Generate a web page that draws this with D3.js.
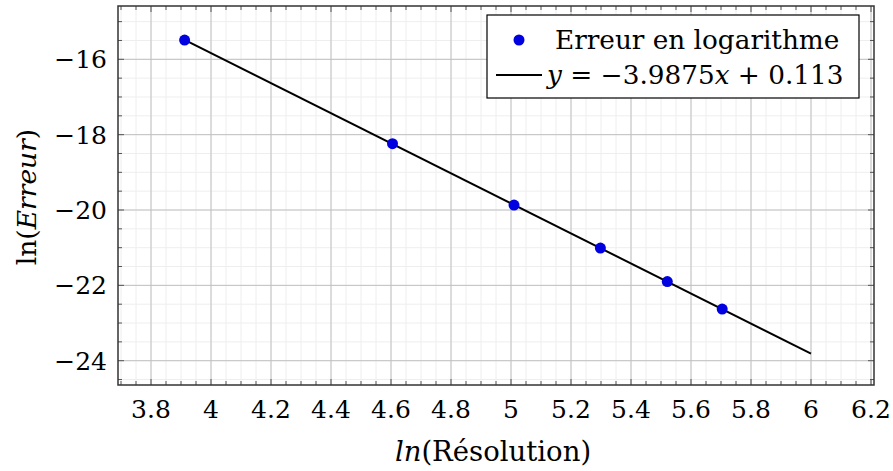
<!DOCTYPE html>
<html><head><meta charset="utf-8">
<script src="https://cdn.jsdelivr.net/npm/d3@7"></script>
<style>body{margin:0;background:#fff}svg{display:block}</style>
</head><body>
<script>
const xValues = [3.912, 4.605, 5.010, 5.298, 5.521, 5.704];
const yValues = [-15.49, -18.24, -19.87, -21.01, -21.90, -22.63];
const fitSlope = -3.9875, fitIntercept = 0.113;
const fitRange = [3.912, 6];
const xTicks = [3.8, 4, 4.2, 4.4, 4.6, 4.8, 5, 5.2, 5.4, 5.6, 5.8, 6, 6.2];
const yTicks = [-16, -18, -20, -22, -24];
const legendLabels = ["Erreur en logarithme", "fit"];

const W = 893, H = 471;
const L = 118, R = 874, T = 6, B = 385;
const FONT = "'DejaVu Serif'";
const svg = d3.select("body").append("svg").attr("width", W).attr("height", H)
  .attr("font-family", FONT);
const x = d3.scaleLinear().domain([3.69, 6.21]).range([L, R]);
const y = d3.scaleLinear().domain([-24.645, -14.585]).range([B, T]);

const fmt = v => (v < 0 ? "\u2212" : "") + Math.abs(v);
const xMinor = d3.range(3.7, 6.2001, 0.05).map(v => +v.toFixed(2));
const yMinor = d3.range(-24.5, -14.5, 0.5);

svg.append("g").selectAll("line").data(xMinor).join("line")
  .attr("x1", d => x(d)).attr("x2", d => x(d)).attr("y1", T).attr("y2", B)
  .attr("stroke", "#eeeeee").attr("stroke-width", 1);
svg.append("g").selectAll("line").data(yMinor).join("line")
  .attr("y1", d => y(d)).attr("y2", d => y(d)).attr("x1", L).attr("x2", R)
  .attr("stroke", "#eeeeee").attr("stroke-width", 1);
svg.append("g").selectAll("line").data(xTicks).join("line")
  .attr("x1", d => x(d)).attr("x2", d => x(d)).attr("y1", T).attr("y2", B)
  .attr("stroke", "#c0c0c0").attr("stroke-width", 1);
svg.append("g").selectAll("line").data(yTicks).join("line")
  .attr("y1", d => y(d)).attr("y2", d => y(d)).attr("x1", L).attr("x2", R)
  .attr("stroke", "#c0c0c0").attr("stroke-width", 1);

const tk = svg.append("g").attr("stroke", "#555").attr("stroke-width", 1);
xMinor.forEach(v => {
  const major = xTicks.some(t => Math.abs(t - v) < 1e-6);
  const len = major ? 6 : 4;
  tk.append("line").attr("x1", x(v)).attr("x2", x(v)).attr("y1", B).attr("y2", B - len);
  tk.append("line").attr("x1", x(v)).attr("x2", x(v)).attr("y1", T).attr("y2", T + len);
});
yMinor.forEach(v => {
  const major = yTicks.includes(v);
  const len = major ? 6 : 4;
  tk.append("line").attr("y1", y(v)).attr("y2", y(v)).attr("x1", L).attr("x2", L + len);
  tk.append("line").attr("y1", y(v)).attr("y2", y(v)).attr("x1", R).attr("x2", R - len);
});

svg.append("rect").attr("x", L).attr("y", T).attr("width", R - L).attr("height", B - T)
  .attr("fill", "none").attr("stroke", "#333").attr("stroke-width", 1.5);

svg.append("g").selectAll("text").data(xTicks).join("text")
  .attr("x", d => x(d)).attr("y", 418).attr("text-anchor", "middle")
  .attr("font-size", 25).text(d => d);
svg.append("g").selectAll("text").data(yTicks).join("text")
  .attr("x", 107).attr("y", d => y(d) + 9).attr("text-anchor", "end")
  .attr("font-size", 25).text(fmt);

const lineData = fitRange.map(v => [v, fitSlope * v + fitIntercept]);
svg.append("path").datum(lineData)
  .attr("d", d3.line().x(d => x(d[0])).y(d => y(d[1])))
  .attr("stroke", "#000").attr("stroke-width", 2).attr("fill", "none");

svg.append("g").selectAll("circle").data(xValues.map((v, i) => [v, yValues[i]])).join("circle")
  .attr("cx", d => x(d[0])).attr("cy", d => y(d[1])).attr("r", 5.5).attr("fill", "#0000e0");

const xl = svg.append("text").attr("x", 493).attr("y", 461).attr("text-anchor", "middle").attr("font-size", 27.5);
xl.append("tspan").attr("font-style", "italic").text("ln");
xl.append("tspan").text("(Résolution)");
const yl = svg.append("text").attr("transform", "translate(36,197) rotate(-90)").attr("text-anchor", "middle").attr("font-size", 26.5);
yl.append("tspan").text("ln(");
yl.append("tspan").attr("font-style", "italic").text("Erreur");
yl.append("tspan").text(")");

const lg = svg.append("g");
lg.append("rect").attr("x", 487).attr("y", 15).attr("width", 372).attr("height", 83)
  .attr("fill", "#fff").attr("stroke", "#000").attr("stroke-width", 1.2);
lg.append("circle").attr("cx", 519).attr("cy", 40).attr("r", 5.5).attr("fill", "#0000e0");
lg.append("text").attr("x", 555).attr("y", 49).attr("font-size", 26.3).text(legendLabels[0]);
lg.append("line").attr("x1", 496).attr("x2", 542).attr("y1", 75).attr("y2", 75).attr("stroke", "#000").attr("stroke-width", 2);
const lt = lg.append("text").attr("x", 547).attr("y", 84).attr("font-size", 26.3);
lt.append("tspan").attr("font-style", "italic").text("y");
lt.append("tspan").text(" = \u2212" + Math.abs(fitSlope));
lt.append("tspan").attr("font-style", "italic").text("x");
lt.append("tspan").text(" + " + fitIntercept);
</script>
</body></html>
